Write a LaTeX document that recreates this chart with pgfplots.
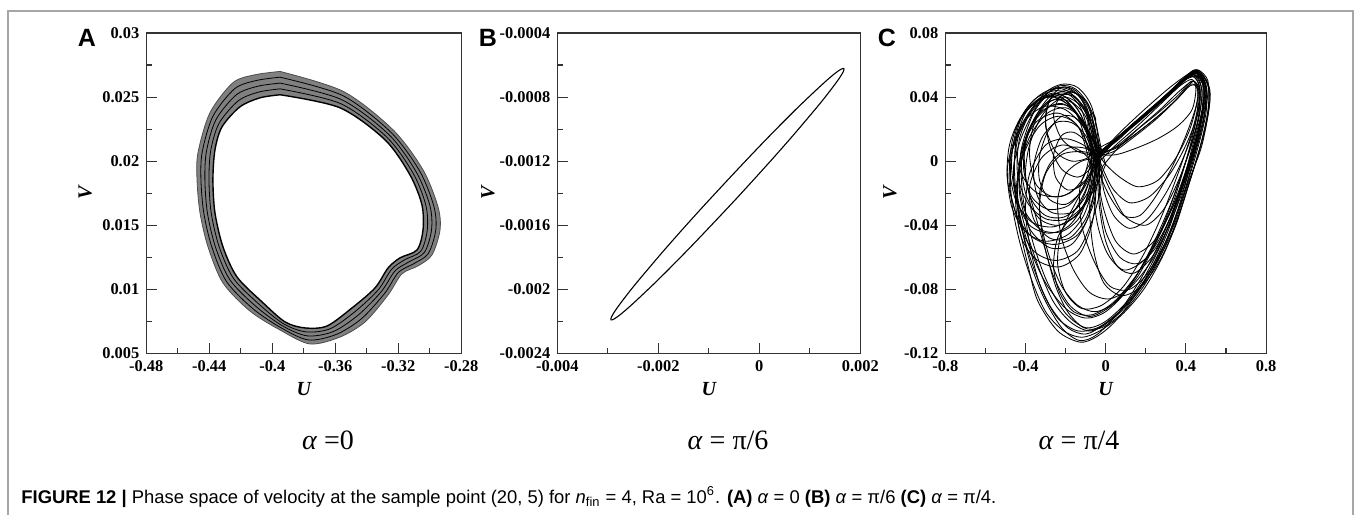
\documentclass[border=0pt]{standalone}
\usepackage{fontspec}
\setmainfont{Liberation Serif}
\newfontfamily\capfont{Liberation Sans}
\usepackage{pgfplots}
\pgfplotsset{compat=1.18}
\pgfplotsset{
  panel/.style={
    scale only axis, anchor=south west,
    height=160.15pt,
    axis line style={black!80, line width=0.6pt},
    tick pos=left, tick align=inside,
    major tick length=5.3pt, minor tick length=2.8pt,
    every tick/.style={black!80, line width=0.55pt},
    minor tick num=1,
    scaled ticks=false,
    /pgf/number format/assume math mode=true,
    /pgf/number format/fixed,
    ticklabel style={font=\fontsize{8.2}{8.2}\selectfont\bfseries},
    xlabel={\bfseries\itshape U}, ylabel={\bfseries\itshape V},
    label style={font=\fontsize{8.5}{8.5}\selectfont},
    every axis x label/.style={at={(axis description cs:0.5,-0.1115)}, anchor=center},
  },
  aloop/.style={black, line width=0.4pt, smooth},
  cl/.style={black, line width=0.42pt, smooth},
}
\begin{document}
\begin{tikzpicture}[x=1pt,y=1pt]
\path[use as bounding box] (0,0) rectangle (677,257.5);
\draw[gray!70, line width=0.75pt] (4,0) -- (4,252) -- (676.4,252) -- (676.4,0);

% ---------------- Panel A ----------------
\begin{axis}[panel, at={(73.15pt,80.85pt)}, width=157.5pt,
  xmin=-0.48, xmax=-0.28, ymin=0.005, ymax=0.03,
  xtick={-0.48,-0.44,-0.4,-0.36,-0.32,-0.28},
  ytick={0.005,0.01,0.015,0.02,0.025,0.03},
  xticklabel style={/pgf/number format/precision=2},
  yticklabel style={/pgf/number format/precision=3},
  every axis y label/.style={at={(axis description cs:-0.1937,0.5)}, rotate=90, anchor=center},
]
\addplot[draw=none, fill=black!50, smooth] coordinates {(-0.3951,0.02700) (-0.3549,0.02544) (-0.3234,0.02245) (-0.3043,0.01932) (-0.2948,0.01643) (-0.2935,0.01463) (-0.2986,0.01268) (-0.3075,0.01182) (-0.3177,0.01120) (-0.3265,0.00955) (-0.3411,0.00745) (-0.3570,0.00627) (-0.3761,0.00573) (-0.3951,0.00682) (-0.4142,0.00830) (-0.4313,0.01049) (-0.4408,0.01330) (-0.4459,0.01596) (-0.4478,0.01854) (-0.4472,0.02065) (-0.4396,0.02377) (-0.4250,0.02612) (-0.4110,0.02674) (-0.3951,0.02700)};
\addplot[draw=none, fill=white, smooth] coordinates {(-0.3951,0.02518) (-0.3570,0.02416) (-0.3284,0.02166) (-0.3126,0.01893) (-0.3050,0.01659) (-0.3043,0.01463) (-0.3081,0.01307) (-0.3189,0.01245) (-0.3265,0.01166) (-0.3348,0.01010) (-0.3494,0.00854) (-0.3653,0.00713) (-0.3792,0.00698) (-0.3919,0.00745) (-0.4065,0.00901) (-0.4224,0.01096) (-0.4313,0.01330) (-0.4364,0.01596) (-0.4377,0.01854) (-0.4364,0.02088) (-0.4319,0.02268) (-0.4205,0.02424) (-0.4078,0.02494) (-0.3951,0.02518)};
\addplot[aloop, black!70] coordinates {(-0.3951,0.02700) (-0.3549,0.02544) (-0.3234,0.02245) (-0.3043,0.01932) (-0.2948,0.01643) (-0.2935,0.01463) (-0.2986,0.01268) (-0.3075,0.01182) (-0.3177,0.01120) (-0.3265,0.00955) (-0.3411,0.00745) (-0.3570,0.00627) (-0.3761,0.00573) (-0.3951,0.00682) (-0.4142,0.00830) (-0.4313,0.01049) (-0.4408,0.01330) (-0.4459,0.01596) (-0.4478,0.01854) (-0.4472,0.02065) (-0.4396,0.02377) (-0.4250,0.02612) (-0.4110,0.02674) (-0.3951,0.02700)};
\addplot[aloop] coordinates {(-0.3951,0.02655) (-0.3554,0.02512) (-0.3247,0.02225) (-0.3064,0.01922) (-0.2974,0.01647) (-0.2962,0.01463) (-0.3010,0.01278) (-0.3104,0.01198) (-0.3199,0.01132) (-0.3286,0.00969) (-0.3432,0.00772) (-0.3591,0.00649) (-0.3769,0.00604) (-0.3943,0.00698) (-0.4123,0.00848) (-0.4291,0.01061) (-0.4384,0.01330) (-0.4435,0.01596) (-0.4453,0.01854) (-0.4445,0.02071) (-0.4377,0.02350) (-0.4239,0.02565) (-0.4102,0.02629) (-0.3951,0.02655)};
\addplot[aloop] coordinates {(-0.3951,0.02609) (-0.3560,0.02480) (-0.3259,0.02206) (-0.3085,0.01913) (-0.2999,0.01651) (-0.2989,0.01463) (-0.3034,0.01288) (-0.3132,0.01214) (-0.3221,0.01143) (-0.3307,0.00983) (-0.3453,0.00800) (-0.3612,0.00670) (-0.3777,0.00636) (-0.3935,0.00714) (-0.4104,0.00866) (-0.4269,0.01073) (-0.4361,0.01330) (-0.4412,0.01596) (-0.4428,0.01854) (-0.4418,0.02077) (-0.4358,0.02323) (-0.4228,0.02518) (-0.4094,0.02584) (-0.3951,0.02609)};
\addplot[aloop] coordinates {(-0.3951,0.02564) (-0.3565,0.02448) (-0.3272,0.02186) (-0.3105,0.01903) (-0.3025,0.01655) (-0.3016,0.01463) (-0.3057,0.01297) (-0.3161,0.01229) (-0.3243,0.01155) (-0.3327,0.00996) (-0.3473,0.00827) (-0.3632,0.00692) (-0.3784,0.00667) (-0.3927,0.00729) (-0.4084,0.00883) (-0.4246,0.01084) (-0.4337,0.01330) (-0.4388,0.01596) (-0.4402,0.01854) (-0.4391,0.02082) (-0.4338,0.02295) (-0.4216,0.02471) (-0.4086,0.02539) (-0.3951,0.02564)};
\addplot[aloop, line width=0.7pt] coordinates {(-0.3951,0.02518) (-0.3570,0.02416) (-0.3284,0.02166) (-0.3126,0.01893) (-0.3050,0.01659) (-0.3043,0.01463) (-0.3081,0.01307) (-0.3189,0.01245) (-0.3265,0.01166) (-0.3348,0.01010) (-0.3494,0.00854) (-0.3653,0.00713) (-0.3792,0.00698) (-0.3919,0.00745) (-0.4065,0.00901) (-0.4224,0.01096) (-0.4313,0.01330) (-0.4364,0.01596) (-0.4377,0.01854) (-0.4364,0.02088) (-0.4319,0.02268) (-0.4205,0.02424) (-0.4078,0.02494) (-0.3951,0.02518)};
\end{axis}

% ---------------- Panel B ----------------
\begin{axis}[panel, at={(278.65pt,80.85pt)}, width=151.5pt,
  xmin=-0.004, xmax=0.002, ymin=-0.0024, ymax=-0.0004,
  xtick={-0.004,-0.002,0,0.002},
  ytick={-0.0024,-0.002,-0.0016,-0.0012,-0.0008,-0.0004},
  xticklabel style={/pgf/number format/precision=3},
  yticklabel style={/pgf/number format/precision=4},
  every axis y label/.style={at={(axis description cs:-0.2287,0.5)}, rotate=90, anchor=center},
]
\addplot[black, line width=0.55pt, smooth] coordinates {(0.001677,-0.000621) (0.001666,-0.000640) (0.001585,-0.000682) (0.001437,-0.000746) (0.001226,-0.000831) (0.000959,-0.000932) (0.000643,-0.001049) (0.000289,-0.001176) (-0.000094,-0.001310) (-0.000492,-0.001447) (-0.000895,-0.001582) (-0.001290,-0.001713) (-0.001664,-0.001834) (-0.002007,-0.001942) (-0.002309,-0.002033) (-0.002559,-0.002106) (-0.002751,-0.002158) (-0.002878,-0.002186) (-0.002937,-0.002191) (-0.002926,-0.002172) (-0.002845,-0.002130) (-0.002697,-0.002066) (-0.002486,-0.001981) (-0.002219,-0.001880) (-0.001903,-0.001763) (-0.001549,-0.001636) (-0.001166,-0.001502) (-0.000768,-0.001366) (-0.000365,-0.001230) (0.000030,-0.001099) (0.000404,-0.000978) (0.000747,-0.000870) (0.001049,-0.000779) (0.001299,-0.000706) (0.001491,-0.000654) (0.001618,-0.000626) (0.001677,-0.000621)};
\end{axis}

% ---------------- Panel C ----------------
\begin{axis}[panel, at={(472.65pt,80.85pt)}, width=160.4pt,
  xmin=-0.8, xmax=0.8, ymin=-0.12, ymax=0.08,
  xtick={-0.8,-0.4,0,0.4,0.8},
  ytick={-0.12,-0.08,-0.04,0,0.04,0.08},
  xticklabel style={/pgf/number format/precision=1},
  yticklabel style={/pgf/number format/precision=2},
  every axis y label/.style={at={(axis description cs:-0.1724,0.5)}, rotate=90, anchor=center},
]
% left-lobe loops
\addplot[cl] coordinates {(-0.04,0.004) (-0.10,0.030) (-0.18,0.043) (-0.26,0.045) (-0.34,0.035) (-0.42,0.015) (-0.46,-0.005) (-0.44,-0.025) (-0.38,-0.040) (-0.28,-0.045) (-0.18,-0.040) (-0.10,-0.025) (-0.05,-0.008) (-0.04,0.004)};
\addplot[cl] coordinates {(-0.06,0.000) (-0.09,0.025) (-0.16,0.036) (-0.24,0.038) (-0.32,0.028) (-0.38,0.010) (-0.40,-0.008) (-0.37,-0.024) (-0.30,-0.034) (-0.21,-0.035) (-0.13,-0.027) (-0.08,-0.012) (-0.06,0.000)};
\addplot[cl] coordinates {(-0.05,0.002) (-0.09,0.018) (-0.15,0.027) (-0.22,0.028) (-0.29,0.018) (-0.33,0.003) (-0.33,-0.012) (-0.28,-0.024) (-0.20,-0.027) (-0.13,-0.020) (-0.08,-0.008) (-0.05,0.002)};
\addplot[cl] coordinates {(-0.03,0.006) (-0.08,0.033) (-0.15,0.045) (-0.23,0.047) (-0.31,0.040) (-0.40,0.025) (-0.47,0.005) (-0.48,-0.015) (-0.44,-0.035) (-0.36,-0.048) (-0.25,-0.052) (-0.14,-0.046) (-0.07,-0.030) (-0.04,-0.012) (-0.03,0.006)};
\addplot[cl] coordinates {(-0.07,0.004) (-0.12,0.028) (-0.20,0.040) (-0.28,0.042) (-0.36,0.030) (-0.42,0.008) (-0.43,-0.014) (-0.40,-0.032) (-0.32,-0.043) (-0.22,-0.044) (-0.13,-0.035) (-0.08,-0.015) (-0.07,0.004)};
\addplot[cl] coordinates {(-0.02,-0.008) (-0.10,0.022) (-0.19,0.033) (-0.29,0.030) (-0.38,0.015) (-0.44,-0.010) (-0.43,-0.038) (-0.36,-0.056) (-0.25,-0.062) (-0.14,-0.056) (-0.07,-0.038) (-0.03,-0.020) (-0.02,-0.008)};
\addplot[cl] coordinates {(-0.05,0.006) (-0.11,0.036) (-0.19,0.046) (-0.27,0.044) (-0.35,0.036) (-0.44,0.018) (-0.49,-0.004) (-0.47,-0.028) (-0.40,-0.044) (-0.30,-0.050) (-0.19,-0.046) (-0.11,-0.034) (-0.06,-0.014) (-0.05,0.006)};
\addplot[cl] coordinates {(-0.06,0.0) (-0.10,0.012) (-0.16,0.018) (-0.22,0.016) (-0.26,0.004) (-0.25,-0.010) (-0.19,-0.018) (-0.12,-0.015) (-0.07,-0.006) (-0.06,0.0)};
\addplot[cl] coordinates {(-0.04,0.005) (-0.07,0.028) (-0.12,0.040) (-0.20,0.044) (-0.27,0.040) (-0.30,0.028) (-0.28,0.010) (-0.22,-0.005) (-0.14,-0.010) (-0.08,-0.005) (-0.04,0.005)};
\addplot[cl] coordinates {(-0.03,0.004) (-0.06,0.022) (-0.13,0.040) (-0.22,0.046) (-0.32,0.042) (-0.41,0.030) (-0.45,0.012) (-0.42,-0.008) (-0.34,-0.020) (-0.22,-0.022) (-0.12,-0.014) (-0.05,-0.004) (-0.03,0.004)};
\addplot[cl] coordinates {(0.00,-0.002) (-0.06,0.020) (-0.12,0.034) (-0.20,0.040) (-0.29,0.036) (-0.37,0.022) (-0.42,0.002) (-0.40,-0.020) (-0.33,-0.036) (-0.23,-0.040) (-0.13,-0.032) (-0.05,-0.016) (0.00,-0.002)};
\addplot[cl] coordinates {(-0.07,0.008) (-0.12,0.032) (-0.19,0.042) (-0.27,0.041) (-0.33,0.032) (-0.39,0.016) (-0.41,-0.004) (-0.37,-0.022) (-0.29,-0.030) (-0.19,-0.028) (-0.12,-0.018) (-0.08,-0.004) (-0.07,0.008)};
\addplot[cl] coordinates {(-0.03,0.002) (-0.08,0.026) (-0.15,0.040) (-0.25,0.044) (-0.36,0.038) (-0.45,0.020) (-0.48,-0.002) (-0.45,-0.024) (-0.37,-0.038) (-0.26,-0.041) (-0.15,-0.034) (-0.08,-0.020) (-0.03,0.002)};
\addplot[cl] coordinates {(-0.05,0.0) (-0.10,0.016) (-0.17,0.024) (-0.25,0.024) (-0.32,0.014) (-0.36,-0.004) (-0.34,-0.022) (-0.27,-0.032) (-0.17,-0.032) (-0.10,-0.022) (-0.06,-0.010) (-0.05,0.0)};
\addplot[cl] coordinates {(-0.02,0.006) (-0.07,0.034) (-0.14,0.046) (-0.22,0.048) (-0.30,0.043) (-0.37,0.032) (-0.43,0.014) (-0.44,-0.008) (-0.39,-0.026) (-0.30,-0.036) (-0.19,-0.036) (-0.10,-0.026) (-0.04,-0.010) (-0.02,0.006)};
\addplot[cl] coordinates {(-0.06,-0.012) (-0.13,0.020) (-0.23,0.028) (-0.33,0.022) (-0.41,0.004) (-0.45,-0.022) (-0.42,-0.048) (-0.34,-0.062) (-0.23,-0.066) (-0.13,-0.058) (-0.07,-0.040) (-0.05,-0.022) (-0.06,-0.012)};
\addplot[cl] coordinates {(-0.04,0.006) (-0.09,0.030) (-0.17,0.041) (-0.26,0.040) (-0.35,0.028) (-0.42,0.006) (-0.43,-0.020) (-0.38,-0.042) (-0.28,-0.054) (-0.17,-0.052) (-0.09,-0.036) (-0.05,-0.014) (-0.04,0.006)};
\addplot[cl] coordinates {(-0.08,0.004) (-0.14,0.028) (-0.22,0.038) (-0.30,0.036) (-0.36,0.022) (-0.38,0.004) (-0.35,-0.014) (-0.27,-0.022) (-0.18,-0.020) (-0.11,-0.010) (-0.08,0.004)};
\addplot[cl] coordinates {(-0.05,0.008) (-0.09,0.032) (-0.15,0.044) (-0.22,0.046) (-0.28,0.038) (-0.30,0.022) (-0.25,0.006) (-0.17,0.0) (-0.09,0.002) (-0.05,0.008)};
\addplot[cl] coordinates {(-0.03,0.004) (-0.05,0.024) (-0.10,0.038) (-0.17,0.043) (-0.23,0.040) (-0.26,0.028) (-0.22,0.014) (-0.14,0.006) (-0.07,0.004) (-0.03,0.004)};
\addplot[cl] coordinates {(-0.05,-0.004) (-0.12,0.006) (-0.22,0.010) (-0.32,0.002) (-0.38,-0.016) (-0.36,-0.036) (-0.28,-0.048) (-0.18,-0.048) (-0.10,-0.036) (-0.06,-0.020) (-0.05,-0.004)};
% big loops
\addplot[cl] coordinates {(-0.04,0.004) (0.05,0.013) (0.15,0.024) (0.26,0.036) (0.36,0.047) (0.43,0.055) (0.48,0.052) (0.49,0.038) (0.45,0.012) (0.38,-0.015) (0.30,-0.042) (0.20,-0.068) (0.08,-0.092) (-0.04,-0.108) (-0.13,-0.112) (-0.22,-0.104) (-0.31,-0.085) (-0.38,-0.062) (-0.43,-0.035) (-0.46,-0.008) (-0.43,0.018) (-0.35,0.035) (-0.25,0.042) (-0.16,0.036) (-0.09,0.020) (-0.04,0.004)};
\addplot[cl] coordinates {(-0.05,0.000) (0.06,0.014) (0.17,0.026) (0.28,0.038) (0.38,0.050) (0.45,0.056) (0.51,0.048) (0.51,0.030) (0.46,0.004) (0.40,-0.020) (0.33,-0.045) (0.23,-0.068) (0.12,-0.086) (0.00,-0.100) (-0.10,-0.104) (-0.20,-0.095) (-0.29,-0.076) (-0.36,-0.052) (-0.41,-0.025) (-0.42,0.0) (-0.37,0.022) (-0.28,0.034) (-0.18,0.034) (-0.10,0.020) (-0.05,0.000)};
\addplot[cl] coordinates {(-0.03,0.005) (0.07,0.016) (0.18,0.028) (0.30,0.041) (0.40,0.053) (0.45,0.057) (0.50,0.050) (0.52,0.038) (0.48,0.010) (0.41,-0.014) (0.34,-0.040) (0.24,-0.064) (0.14,-0.085) (0.04,-0.101) (-0.05,-0.110) (-0.13,-0.113) (-0.24,-0.106) (-0.34,-0.087) (-0.39,-0.064) (-0.44,-0.037) (-0.49,-0.012) (-0.48,0.010) (-0.42,0.028) (-0.32,0.040) (-0.22,0.040) (-0.12,0.025) (-0.03,0.005)};
\addplot[cl] coordinates {(-0.06,0.004) (0.04,0.008) (0.14,0.016) (0.25,0.027) (0.35,0.038) (0.42,0.048) (0.46,0.044) (0.45,0.025) (0.40,0.0) (0.33,-0.028) (0.24,-0.052) (0.14,-0.074) (0.03,-0.090) (-0.08,-0.097) (-0.18,-0.090) (-0.26,-0.072) (-0.31,-0.050) (-0.33,-0.028) (-0.30,-0.008) (-0.22,0.004) (-0.12,0.006) (-0.06,0.004)};
\addplot[cl] coordinates {(-0.04,0.008) (0.05,0.014) (0.16,0.025) (0.27,0.037) (0.37,0.048) (0.44,0.054) (0.49,0.045) (0.47,0.020) (0.42,-0.004) (0.36,-0.030) (0.28,-0.056) (0.17,-0.080) (0.05,-0.097) (-0.07,-0.106) (-0.17,-0.101) (-0.26,-0.088) (-0.33,-0.068) (-0.40,-0.042) (-0.45,-0.016) (-0.45,0.010) (-0.40,0.030) (-0.30,0.040) (-0.20,0.038) (-0.11,0.024) (-0.04,0.008)};
\addplot[cl] coordinates {(-0.03,0.002) (0.06,0.014) (0.18,0.027) (0.30,0.040) (0.40,0.052) (0.47,0.053) (0.50,0.040) (0.46,0.016) (0.39,-0.010) (0.32,-0.038) (0.24,-0.060) (0.13,-0.078) (0.02,-0.086) (-0.08,-0.082) (-0.16,-0.068) (-0.22,-0.048) (-0.24,-0.025) (-0.20,-0.008) (-0.12,0.000) (-0.03,0.002)};
\addplot[cl] coordinates {(-0.05,0.003) (0.03,0.012) (0.13,0.022) (0.24,0.033) (0.34,0.045) (0.42,0.054) (0.48,0.050) (0.48,0.032) (0.43,0.008) (0.37,-0.020) (0.29,-0.048) (0.19,-0.073) (0.07,-0.094) (-0.04,-0.104) (-0.14,-0.106) (-0.24,-0.098) (-0.32,-0.080) (-0.37,-0.058) (-0.40,-0.032) (-0.38,-0.008) (-0.30,0.010) (-0.20,0.014) (-0.11,0.010) (-0.05,0.003)};
\addplot[cl] coordinates {(-0.06,0.002) (0.03,0.011) (0.12,0.020) (0.22,0.031) (0.32,0.043) (0.40,0.052) (0.46,0.055) (0.50,0.046) (0.49,0.026) (0.44,0.002) (0.38,-0.024) (0.30,-0.050) (0.21,-0.072) (0.10,-0.090) (-0.01,-0.102) (-0.10,-0.108) (-0.19,-0.104) (-0.28,-0.090) (-0.35,-0.070) (-0.41,-0.046) (-0.44,-0.020) (-0.42,0.006) (-0.35,0.024) (-0.24,0.030) (-0.14,0.022) (-0.06,0.002)};
\addplot[cl] coordinates {(-0.02,0.006) (0.08,0.019) (0.20,0.033) (0.32,0.046) (0.42,0.055) (0.47,0.056) (0.52,0.044) (0.50,0.022) (0.44,-0.004) (0.37,-0.032) (0.29,-0.058) (0.19,-0.080) (0.08,-0.096) (-0.03,-0.106) (-0.12,-0.110) (-0.21,-0.106) (-0.30,-0.094) (-0.37,-0.074) (-0.43,-0.050) (-0.47,-0.024) (-0.47,0.004) (-0.41,0.024) (-0.31,0.034) (-0.20,0.032) (-0.10,0.020) (-0.02,0.006)};
\addplot[cl] coordinates {(-0.05,0.004) (0.05,0.013) (0.16,0.025) (0.27,0.037) (0.38,0.050) (0.44,0.054) (0.48,0.044) (0.46,0.024) (0.40,0.000) (0.32,-0.028) (0.22,-0.056) (0.11,-0.080) (0.00,-0.094) (-0.10,-0.098) (-0.20,-0.092) (-0.30,-0.076) (-0.38,-0.054) (-0.44,-0.028) (-0.47,-0.002) (-0.44,0.022) (-0.36,0.036) (-0.26,0.040) (-0.16,0.032) (-0.09,0.016) (-0.05,0.004)};
\addplot[cl] coordinates {(-0.04,0.003) (0.05,0.009) (0.15,0.019) (0.26,0.030) (0.36,0.041) (0.43,0.050) (0.47,0.044) (0.46,0.026) (0.41,0.004) (0.34,-0.022) (0.26,-0.048) (0.16,-0.072) (0.05,-0.088) (-0.05,-0.094) (-0.14,-0.090) (-0.22,-0.078) (-0.28,-0.060) (-0.32,-0.040) (-0.33,-0.020) (-0.28,-0.002) (-0.19,0.008) (-0.10,0.008) (-0.04,0.003)};
\addplot[cl] coordinates {(-0.03,0.005) (0.06,0.015) (0.17,0.027) (0.29,0.040) (0.39,0.052) (0.45,0.056) (0.50,0.048) (0.50,0.030) (0.45,0.004) (0.38,-0.024) (0.30,-0.052) (0.20,-0.076) (0.09,-0.094) (-0.02,-0.104) (-0.11,-0.104) (-0.19,-0.094) (-0.25,-0.078) (-0.30,-0.056) (-0.35,-0.034) (-0.40,-0.010) (-0.40,0.014) (-0.33,0.030) (-0.22,0.036) (-0.12,0.026) (-0.03,0.005)};
\addplot[cl] coordinates {(-0.05,0.004) (0.04,0.013) (0.15,0.025) (0.27,0.038) (0.37,0.049) (0.44,0.053) (0.47,0.042) (0.43,0.018) (0.36,-0.008) (0.28,-0.034) (0.19,-0.058) (0.09,-0.078) (-0.02,-0.090) (-0.12,-0.092) (-0.20,-0.082) (-0.24,-0.064) (-0.22,-0.044) (-0.15,-0.026) (-0.08,-0.010) (-0.05,0.004)};
\addplot[cl] coordinates {(-0.04,0.004) (0.06,0.014) (0.17,0.026) (0.28,0.039) (0.38,0.050) (0.45,0.055) (0.49,0.048) (0.48,0.030) (0.43,0.006) (0.36,-0.020) (0.27,-0.046) (0.16,-0.070) (0.04,-0.088) (-0.07,-0.096) (-0.16,-0.094) (-0.23,-0.082) (-0.26,-0.066) (-0.24,-0.048) (-0.17,-0.034) (-0.10,-0.018) (-0.04,0.004)};
% right-lobe loops
\addplot[cl] coordinates {(-0.04,0.004) (0.06,0.014) (0.18,0.027) (0.30,0.040) (0.40,0.051) (0.46,0.052) (0.48,0.040) (0.44,0.015) (0.37,-0.010) (0.29,-0.030) (0.20,-0.040) (0.10,-0.035) (0.03,-0.020) (-0.02,-0.006) (-0.04,0.004)};
\addplot[cl] coordinates {(-0.05,0.002) (0.07,0.015) (0.19,0.028) (0.31,0.042) (0.41,0.053) (0.47,0.054) (0.50,0.044) (0.47,0.022) (0.41,-0.005) (0.33,-0.030) (0.24,-0.050) (0.14,-0.058) (0.05,-0.050) (-0.01,-0.030) (-0.04,-0.010) (-0.05,0.002)};
\addplot[cl] coordinates {(-0.04,0.005) (0.05,0.008) (0.16,0.018) (0.28,0.030) (0.38,0.042) (0.44,0.050) (0.46,0.040) (0.42,0.020) (0.35,0.002) (0.26,-0.012) (0.16,-0.016) (0.07,-0.010) (0.00,-0.002) (-0.04,0.005)};
\addplot[cl] coordinates {(-0.04,0.004) (0.06,0.013) (0.17,0.026) (0.29,0.039) (0.39,0.050) (0.45,0.055) (0.49,0.046) (0.48,0.028) (0.43,0.002) (0.36,-0.024) (0.28,-0.046) (0.19,-0.062) (0.09,-0.068) (0.01,-0.058) (-0.04,-0.040) (-0.06,-0.018) (-0.04,0.004)};
\addplot[cl] coordinates {(-0.04,0.004) (0.05,0.013) (0.16,0.024) (0.27,0.036) (0.37,0.047) (0.43,0.051) (0.45,0.045) (0.43,0.032) (0.36,0.022) (0.26,0.014) (0.15,0.008) (0.05,0.004) (-0.04,0.004)};
\addplot[cl] coordinates {(-0.03,0.005) (0.08,0.017) (0.20,0.030) (0.32,0.043) (0.41,0.054) (0.46,0.057) (0.51,0.050) (0.50,0.034) (0.45,0.008) (0.38,-0.018) (0.31,-0.044) (0.22,-0.068) (0.12,-0.080) (0.02,-0.078) (-0.06,-0.062) (-0.12,-0.040) (-0.13,-0.018) (-0.09,-0.004) (-0.03,0.005)};
\addplot[cl] coordinates {(-0.04,0.004) (0.05,0.013) (0.15,0.024) (0.26,0.036) (0.36,0.047) (0.43,0.053) (0.47,0.046) (0.46,0.030) (0.40,0.010) (0.32,-0.008) (0.22,-0.022) (0.12,-0.026) (0.04,-0.018) (-0.01,-0.006) (-0.04,0.004)};
\addplot[cl] coordinates {(-0.03,0.005) (0.07,0.016) (0.19,0.029) (0.31,0.042) (0.41,0.053) (0.46,0.055) (0.50,0.046) (0.49,0.028) (0.44,0.004) (0.38,-0.020) (0.31,-0.042) (0.23,-0.060) (0.14,-0.070) (0.06,-0.066) (0.00,-0.050) (-0.03,-0.030) (-0.04,-0.010) (-0.03,0.005)};
\addplot[cl] coordinates {(-0.05,0.003) (0.04,0.006) (0.14,0.015) (0.25,0.026) (0.35,0.038) (0.42,0.047) (0.46,0.046) (0.45,0.034) (0.40,0.016) (0.33,-0.004) (0.25,-0.022) (0.17,-0.034) (0.09,-0.034) (0.02,-0.022) (-0.03,-0.008) (-0.05,0.003)};
\addplot[cl] coordinates {(-0.04,0.004) (0.06,0.014) (0.18,0.027) (0.30,0.041) (0.40,0.052) (0.46,0.056) (0.51,0.048) (0.51,0.032) (0.47,0.008) (0.41,-0.016) (0.35,-0.040) (0.27,-0.062) (0.18,-0.078) (0.08,-0.084) (-0.01,-0.076) (-0.06,-0.056) (-0.08,-0.032) (-0.07,-0.012) (-0.04,0.004)};
\addplot[cl] coordinates {(-0.02,-0.004) (0.06,0.008) (0.16,0.020) (0.27,0.032) (0.37,0.044) (0.44,0.050) (0.47,0.040) (0.44,0.020) (0.38,0.000) (0.30,-0.020) (0.21,-0.036) (0.12,-0.042) (0.04,-0.034) (-0.01,-0.018) (-0.02,-0.004)};
\addplot[cl] coordinates {(-0.03,0.000) (0.05,0.010) (0.15,0.021) (0.26,0.034) (0.36,0.046) (0.43,0.054) (0.48,0.050) (0.49,0.036) (0.45,0.014) (0.39,-0.012) (0.32,-0.036) (0.25,-0.054) (0.16,-0.064) (0.07,-0.060) (0.00,-0.044) (-0.03,-0.022) (-0.03,0.000)};
\addplot[cl] coordinates {(-0.04,0.004) (-0.06,0.015) (-0.05,0.026) (-0.07,0.030) (-0.09,0.022) (-0.07,0.008) (-0.04,0.004)};
\end{axis}

% panel letters
\node[font=\capfont\bfseries\fontsize{12.5}{12.5}\selectfont] at (43.5,238.75) {A};
\node[font=\capfont\bfseries\fontsize{12.5}{12.5}\selectfont] at (244,238.75) {B};
\node[font=\capfont\bfseries\fontsize{12.5}{12.5}\selectfont] at (443.5,238.75) {C};

% alpha labels
\node[font=\fontsize{14}{14}\selectfont] at (164,37.5) {\textit{α} =0};
\node[font=\fontsize{14}{14}\selectfont] at (364,37.5) {\textit{α} = π/6};
\node[font=\fontsize{14}{14}\selectfont] at (539.5,37.5) {\textit{α} = π/4};

% caption
\node[anchor=base west, inner sep=0pt, font=\capfont\fontsize{9.2}{11}\selectfont] at (10.5,6) {\textbf{FIGURE 12 |} Phase space of velocity at the sample point (20, 5) for \textit{n}\textsubscript{fin} = 4, Ra = 10\textsuperscript{6}. \textbf{(A)} \textit{α} = 0 \textbf{(B)} \textit{α} = π/6 \textbf{(C)} \textit{α} = π/4.};
\end{tikzpicture}
\end{document}
